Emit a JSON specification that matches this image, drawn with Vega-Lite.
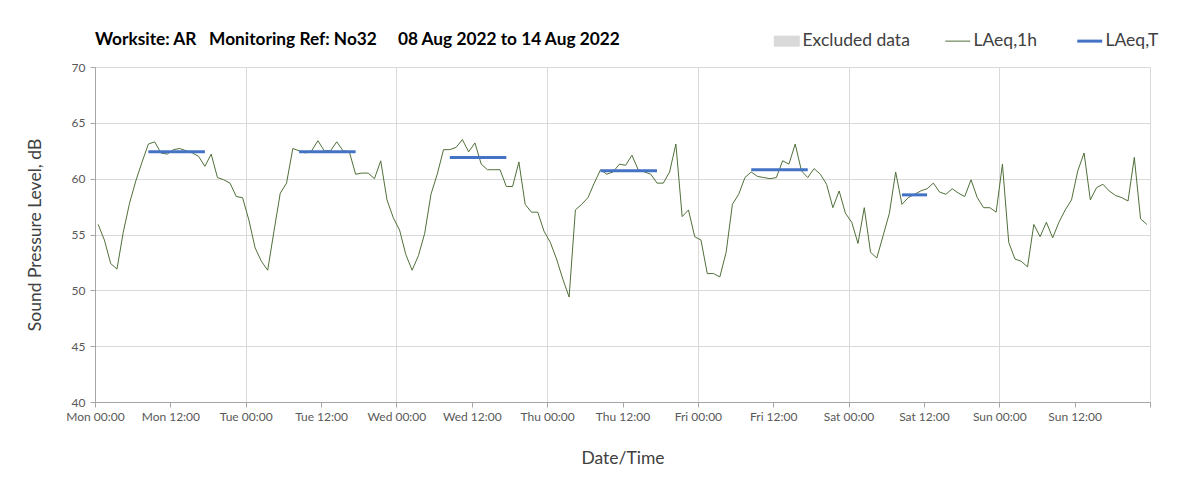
{
  "$schema": "https://vega.github.io/schema/vega-lite/v6.json",
  "width": 1055,
  "height": 335,
  "autosize": "none",
  "padding": {"left": 95, "top": 67, "right": 53, "bottom": 88},
  "background": "white",
  "config": {"view": {"stroke": null}, "font": "Lato"},
  "title": {
    "text": "Worksite: AR\u00a0\u00a0\u00a0Monitoring Ref: No32\u00a0\u00a0\u00a0\u00a0\u00a008 Aug 2022 to 14 Aug 2022",
    "anchor": "start",
    "frame": "group",
    "font": "Lato",
    "fontSize": 17.3,
    "fontWeight": "bold",
    "color": "#000000",
    "offset": -16
  },
  "datasets": {
    "hourly": [
      {"t":"2022-08-08T00:30","v":55.9},{"t":"2022-08-08T01:30","v":54.5},{"t":"2022-08-08T02:30","v":52.4},{"t":"2022-08-08T03:30","v":51.9},{"t":"2022-08-08T04:30","v":55.2},{"t":"2022-08-08T05:30","v":57.8},{"t":"2022-08-08T06:30","v":59.8},{"t":"2022-08-08T07:30","v":61.5},{"t":"2022-08-08T08:30","v":63.1},{"t":"2022-08-08T09:30","v":63.3},{"t":"2022-08-08T10:30","v":62.3},{"t":"2022-08-08T11:30","v":62.2},{"t":"2022-08-08T12:30","v":62.6},{"t":"2022-08-08T13:30","v":62.7},{"t":"2022-08-08T14:30","v":62.5},{"t":"2022-08-08T15:30","v":62.3},{"t":"2022-08-08T16:30","v":62.0},{"t":"2022-08-08T17:30","v":61.1},{"t":"2022-08-08T18:30","v":62.2},{"t":"2022-08-08T19:30","v":60.1},{"t":"2022-08-08T20:30","v":59.9},{"t":"2022-08-08T21:30","v":59.6},{"t":"2022-08-08T22:30","v":58.4},{"t":"2022-08-08T23:30","v":58.3},
      {"t":"2022-08-09T00:30","v":56.3},{"t":"2022-08-09T01:30","v":53.8},{"t":"2022-08-09T02:30","v":52.6},{"t":"2022-08-09T03:30","v":51.8},{"t":"2022-08-09T04:30","v":55.3},{"t":"2022-08-09T05:30","v":58.7},{"t":"2022-08-09T06:30","v":59.6},{"t":"2022-08-09T07:30","v":62.7},{"t":"2022-08-09T08:30","v":62.5},{"t":"2022-08-09T09:30","v":62.3},{"t":"2022-08-09T10:30","v":62.5},{"t":"2022-08-09T11:30","v":63.4},{"t":"2022-08-09T12:30","v":62.5},{"t":"2022-08-09T13:30","v":62.5},{"t":"2022-08-09T14:30","v":63.3},{"t":"2022-08-09T15:30","v":62.5},{"t":"2022-08-09T16:30","v":62.4},{"t":"2022-08-09T17:30","v":60.4},{"t":"2022-08-09T18:30","v":60.5},{"t":"2022-08-09T19:30","v":60.5},{"t":"2022-08-09T20:30","v":60.0},{"t":"2022-08-09T21:30","v":61.6},{"t":"2022-08-09T22:30","v":58.1},{"t":"2022-08-09T23:30","v":56.5},
      {"t":"2022-08-10T00:30","v":55.4},{"t":"2022-08-10T01:30","v":53.2},{"t":"2022-08-10T02:30","v":51.8},{"t":"2022-08-10T03:30","v":53.1},{"t":"2022-08-10T04:30","v":55.1},{"t":"2022-08-10T05:30","v":58.6},{"t":"2022-08-10T06:30","v":60.4},{"t":"2022-08-10T07:30","v":62.6},{"t":"2022-08-10T08:30","v":62.6},{"t":"2022-08-10T09:30","v":62.8},{"t":"2022-08-10T10:30","v":63.5},{"t":"2022-08-10T11:30","v":62.4},{"t":"2022-08-10T12:30","v":63.2},{"t":"2022-08-10T13:30","v":61.3},{"t":"2022-08-10T14:30","v":60.8},{"t":"2022-08-10T15:30","v":60.8},{"t":"2022-08-10T16:30","v":60.8},{"t":"2022-08-10T17:30","v":59.3},{"t":"2022-08-10T18:30","v":59.3},{"t":"2022-08-10T19:30","v":61.5},{"t":"2022-08-10T20:30","v":57.7},{"t":"2022-08-10T21:30","v":57.0},{"t":"2022-08-10T22:30","v":57.0},{"t":"2022-08-10T23:30","v":55.3},
      {"t":"2022-08-11T00:30","v":54.3},{"t":"2022-08-11T01:30","v":52.8},{"t":"2022-08-11T02:30","v":51.0},{"t":"2022-08-11T03:30","v":49.4},{"t":"2022-08-11T04:30","v":57.2},{"t":"2022-08-11T05:30","v":57.7},{"t":"2022-08-11T06:30","v":58.3},{"t":"2022-08-11T07:30","v":59.6},{"t":"2022-08-11T08:30","v":60.8},{"t":"2022-08-11T09:30","v":60.4},{"t":"2022-08-11T10:30","v":60.6},{"t":"2022-08-11T11:30","v":61.3},{"t":"2022-08-11T12:30","v":61.2},{"t":"2022-08-11T13:30","v":62.1},{"t":"2022-08-11T14:30","v":60.8},{"t":"2022-08-11T15:30","v":60.6},{"t":"2022-08-11T16:30","v":60.4},{"t":"2022-08-11T17:30","v":59.6},{"t":"2022-08-11T18:30","v":59.6},{"t":"2022-08-11T19:30","v":60.6},{"t":"2022-08-11T20:30","v":63.1},{"t":"2022-08-11T21:30","v":56.6},{"t":"2022-08-11T22:30","v":57.2},{"t":"2022-08-11T23:30","v":54.8},
      {"t":"2022-08-12T00:30","v":54.5},{"t":"2022-08-12T01:30","v":51.5},{"t":"2022-08-12T02:30","v":51.5},{"t":"2022-08-12T03:30","v":51.2},{"t":"2022-08-12T04:30","v":53.4},{"t":"2022-08-12T05:30","v":57.7},{"t":"2022-08-12T06:30","v":58.6},{"t":"2022-08-12T07:30","v":60.1},{"t":"2022-08-12T08:30","v":60.6},{"t":"2022-08-12T09:30","v":60.2},{"t":"2022-08-12T10:30","v":60.1},{"t":"2022-08-12T11:30","v":60.0},{"t":"2022-08-12T12:30","v":60.1},{"t":"2022-08-12T13:30","v":61.6},{"t":"2022-08-12T14:30","v":61.3},{"t":"2022-08-12T15:30","v":63.1},{"t":"2022-08-12T16:30","v":60.7},{"t":"2022-08-12T17:30","v":60.1},{"t":"2022-08-12T18:30","v":60.9},{"t":"2022-08-12T19:30","v":60.4},{"t":"2022-08-12T20:30","v":59.5},{"t":"2022-08-12T21:30","v":57.4},{"t":"2022-08-12T22:30","v":58.9},{"t":"2022-08-12T23:30","v":56.9},
      {"t":"2022-08-13T00:30","v":56.1},{"t":"2022-08-13T01:30","v":54.2},{"t":"2022-08-13T02:30","v":57.4},{"t":"2022-08-13T03:30","v":53.4},{"t":"2022-08-13T04:30","v":52.9},{"t":"2022-08-13T05:30","v":54.9},{"t":"2022-08-13T06:30","v":56.9},{"t":"2022-08-13T07:30","v":60.6},{"t":"2022-08-13T08:30","v":57.7},{"t":"2022-08-13T09:30","v":58.3},{"t":"2022-08-13T10:30","v":58.6},{"t":"2022-08-13T11:30","v":58.9},{"t":"2022-08-13T12:30","v":59.1},{"t":"2022-08-13T13:30","v":59.6},{"t":"2022-08-13T14:30","v":58.8},{"t":"2022-08-13T15:30","v":58.6},{"t":"2022-08-13T16:30","v":59.1},{"t":"2022-08-13T17:30","v":58.7},{"t":"2022-08-13T18:30","v":58.4},{"t":"2022-08-13T19:30","v":59.9},{"t":"2022-08-13T20:30","v":58.3},{"t":"2022-08-13T21:30","v":57.4},{"t":"2022-08-13T22:30","v":57.4},{"t":"2022-08-13T23:30","v":57.0},
      {"t":"2022-08-14T00:30","v":61.3},{"t":"2022-08-14T01:30","v":54.3},{"t":"2022-08-14T02:30","v":52.8},{"t":"2022-08-14T03:30","v":52.6},{"t":"2022-08-14T04:30","v":52.1},{"t":"2022-08-14T05:30","v":55.9},{"t":"2022-08-14T06:30","v":54.8},{"t":"2022-08-14T07:30","v":56.1},{"t":"2022-08-14T08:30","v":54.7},{"t":"2022-08-14T09:30","v":56.1},{"t":"2022-08-14T10:30","v":57.2},{"t":"2022-08-14T11:30","v":58.1},{"t":"2022-08-14T12:30","v":60.7},{"t":"2022-08-14T13:30","v":62.3},{"t":"2022-08-14T14:30","v":58.1},{"t":"2022-08-14T15:30","v":59.2},{"t":"2022-08-14T16:30","v":59.5},{"t":"2022-08-14T17:30","v":58.9},{"t":"2022-08-14T18:30","v":58.5},{"t":"2022-08-14T19:30","v":58.3},{"t":"2022-08-14T20:30","v":58.0},{"t":"2022-08-14T21:30","v":61.9},{"t":"2022-08-14T22:30","v":56.4},{"t":"2022-08-14T23:30","v":55.9}
    ],
    "period": [
      {"t":"2022-08-08T08:30","v":62.4,"d":"Mon"},{"t":"2022-08-08T17:30","v":62.4,"d":"Mon"},
      {"t":"2022-08-09T08:30","v":62.4,"d":"Tue"},{"t":"2022-08-09T17:30","v":62.4,"d":"Tue"},
      {"t":"2022-08-10T08:30","v":61.9,"d":"Wed"},{"t":"2022-08-10T17:30","v":61.9,"d":"Wed"},
      {"t":"2022-08-11T08:30","v":60.7,"d":"Thu"},{"t":"2022-08-11T17:30","v":60.7,"d":"Thu"},
      {"t":"2022-08-12T08:30","v":60.8,"d":"Fri"},{"t":"2022-08-12T17:30","v":60.8,"d":"Fri"},
      {"t":"2022-08-13T08:30","v":58.55,"d":"Sat"},{"t":"2022-08-13T12:30","v":58.55,"d":"Sat"}
    ]
  },
  "encoding": {
    "x": {
      "field": "t",
      "type": "temporal",
      "scale": {"domain": [{"year":2022,"month":8,"date":8,"hours":0},{"year":2022,"month":8,"date":15,"hours":0}]},
      "axis": {
        "title": "Date/Time",
        "values": [
          {"year":2022,"month":8,"date":8,"hours":0},{"year":2022,"month":8,"date":8,"hours":12},
          {"year":2022,"month":8,"date":9,"hours":0},{"year":2022,"month":8,"date":9,"hours":12},
          {"year":2022,"month":8,"date":10,"hours":0},{"year":2022,"month":8,"date":10,"hours":12},
          {"year":2022,"month":8,"date":11,"hours":0},{"year":2022,"month":8,"date":11,"hours":12},
          {"year":2022,"month":8,"date":12,"hours":0},{"year":2022,"month":8,"date":12,"hours":12},
          {"year":2022,"month":8,"date":13,"hours":0},{"year":2022,"month":8,"date":13,"hours":12},
          {"year":2022,"month":8,"date":14,"hours":0},{"year":2022,"month":8,"date":14,"hours":12},
          {"year":2022,"month":8,"date":15,"hours":0}
        ],
        "labelExpr": "datum.value >= datetime(2022,7,15,0,0) ? '' : timeFormat(datum.value, '%a %H:%M')",
        "labelFont": "Lato",
        "labelFontSize": 12,
        "labelColor": "#595959",
        "labelPadding": 4,
        "labelFlush": false,
        "labelOverlap": false,
        "tickSize": 5,
        "tickColor": "#a6a6a6",
        "domainColor": "#a6a6a6",
        "grid": true,
        "gridColor": "#d9d9d9",
        "gridOpacity": {"condition": {"test": "hours(datum.value) === 0", "value": 1}, "value": 0},
        "titleFont": "Lato",
        "titleFontSize": 17.5,
        "titleFontWeight": "normal",
        "titleColor": "#404040",
        "titlePadding": 27
      }
    },
    "y": {
      "field": "v",
      "type": "quantitative",
      "scale": {"domain": [40, 70], "nice": false, "zero": false},
      "axis": {
        "title": "Sound Pressure Level, dB",
        "values": [40, 45, 50, 55, 60, 65, 70],
        "labelFont": "Lato",
        "labelFontSize": 12,
        "labelColor": "#595959",
        "labelPadding": 5,
        "tickSize": 5,
        "tickColor": "#a6a6a6",
        "domainColor": "#a6a6a6",
        "gridColor": "#d9d9d9",
        "titleFont": "Lato",
        "titleFontSize": 17.5,
        "titleFontWeight": "normal",
        "titleColor": "#404040",
        "titlePadding": 27
      }
    }
  },
  "layer": [
    {
      "data": {"name": "hourly"},
      "mark": {"type": "line", "strokeWidth": 1},
      "encoding": {
        "color": {
          "datum": "LAeq,1h",
          "type": "nominal",
          "scale": {"domain": ["Excluded data", "LAeq,1h", "LAeq,T"], "range": ["#d9d9d9", "#50703a", "#4472c4"]},
          "legend": {
            "orient": "none",
            "legendX": 683,
            "legendY": -35,
            "direction": "horizontal",
            "title": null,
            "symbolType": "stroke",
            "symbolSize": 625,
            "labelFont": "Lato",
            "labelFontSize": 17.5,
            "labelColor": "#404040",
            "labelOffset": 7,
            "columnPadding": 33,
            "encode": {
              "symbols": {
                "update": {
                  "shape": {"signal": "datum.value === 'Excluded data' ? 'M-1,-0.4H1V0.4H-1Z' : 'stroke'"},
                  "fill": {"signal": "datum.value === 'Excluded data' ? '#d9d9d9' : 'transparent'"},
                  "stroke": {"signal": "datum.value === 'Excluded data' ? 'transparent' : (datum.value === 'LAeq,T' ? '#4472c4' : '#50703a')"},
                  "strokeWidth": {"signal": "datum.value === 'LAeq,T' ? 3 : 1"},
                  "opacity": {"value": 1}
                }
              }
            }
          }
        }
      }
    },
    {
      "data": {"name": "period"},
      "mark": {"type": "line", "strokeWidth": 3},
      "encoding": {
        "detail": {"field": "d", "type": "nominal"},
        "color": {"datum": "LAeq,T", "type": "nominal"}
      }
    }
  ]
}
